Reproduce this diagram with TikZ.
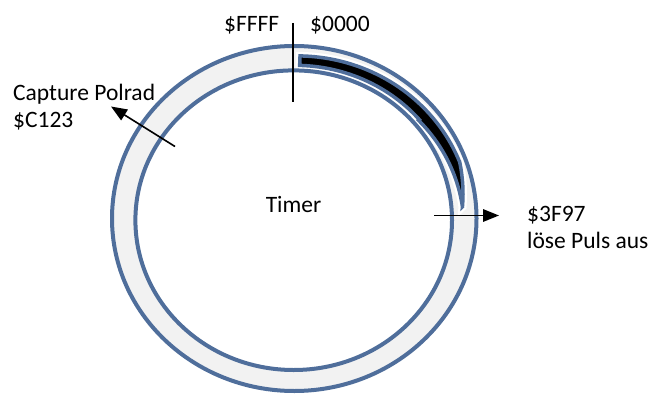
\documentclass[tikz,border=0pt]{standalone}
\usepackage{fontspec}
\setmainfont{Carlito}
\usetikzlibrary{arrows.meta}
\definecolor{ringblue}{RGB}{79,110,155}
\definecolor{ringgray}{RGB}{242,242,242}
% tapered pulse band inside the timer ring (angles: 0 = right, -90 = top)
\newcommand{\pulseband}{%
  plot[domain=-88:-20, samples=40, variable=\t]
    ({294+1.056*(163.5+(\t+88)*3.5/68)*cos(\t)}, {219.3+(163.5+(\t+88)*3.5/68)*sin(\t)})
  -- plot[domain=-20:-4.5, samples=15, variable=\t]
    ({294+1.056*(167-(\t+20)*7/15.5)*cos(\t)}, {219.3+(167-(\t+20)*7/15.5)*sin(\t)})
  -- plot[domain=-4.5:-40, samples=25, variable=\t]
    ({294+1.056*(154+(\t+40)*6/35.5)*cos(\t)}, {219.3+(154+(\t+40)*6/35.5)*sin(\t)})
  -- plot[domain=-40:-88, samples=30, variable=\t]
    ({294+1.056*(154+(\t+88)/48)*cos(\t)}, {219.3+(154+(\t+88)/48)*sin(\t)})
  -- cycle}
\begin{document}
\begin{tikzpicture}[x=1pt, y=-1pt,
    every node/.style={inner sep=0pt, font=\fontsize{23.5}{27.5}\selectfont},
    ringline/.style={draw=ringblue, line width=4pt},
    pointer/.style={draw=black, line width=1.6pt, -{Triangle[length=16pt, width=12.5pt]}},
    tickline/.style={draw=black, line width=1.4pt}]
  \useasboundingbox (0,0) rectangle (663,396);

  % ring body
  \fill[ringgray, even odd rule]
    (294.25,218.5) ellipse [x radius=182.25, y radius=172.5]
    (293.7,220.2) ellipse [x radius=158.3, y radius=149.8];

  % white halo around the pulse band
  \draw[white, line width=8pt] \pulseband;

  % ring outlines
  \draw[ringline] (294.25,218.5) ellipse [x radius=182.25, y radius=172.5];
  \draw[ringline] (293.7,220.2) ellipse [x radius=158.3, y radius=149.8];

  % pulse band
  \draw[fill=black, draw=ringblue, line width=3.5pt] \pulseband;

  % overflow mark
  \coordinate (zerotop) at (293,23);
  \coordinate (zerobot) at (293,102);
  \draw[tickline] (zerotop) -- (zerobot);

  % labels (base anchor of a two-line node sits on its last line)
  \node[anchor=base west] (ffff) at (224,32) {\$FFFF};
  \node[anchor=base west] (zero) at (310,32) {\$0000};
  \node[anchor=base] (timer) at (293.5,212) {Timer};
  \node[anchor=base west, align=left] (capture) at (13,127.5) {Capture Polrad\\\$C123};
  \node[anchor=base west, align=left] (pulse) at (527,248.5) {\$3F97\\löse Puls aus};

  % pointers
  \coordinate (capfrom) at (175,146.5);
  \coordinate (capto) at (111,106.5);
  \draw[pointer] (capfrom) -- (capto);
  \coordinate (pulsefrom) at (434,215.5);
  \coordinate (pulseto) at (499,215.5);
  \draw[pointer] (pulsefrom) -- (pulseto);
\end{tikzpicture}
\end{document}
